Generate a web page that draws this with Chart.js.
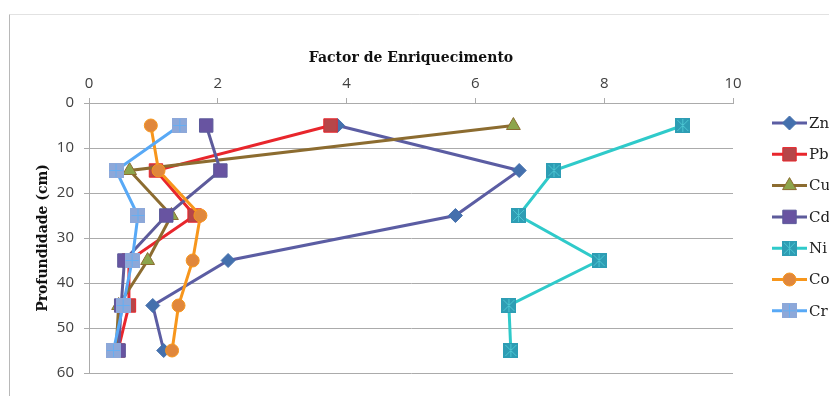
<!DOCTYPE html>
<html>
<head>
<meta charset="utf-8">
<title>Factor de Enriquecimento</title>
<script src="https://cdn.jsdelivr.net/npm/chart.js@4/dist/chart.umd.min.js"></script>
<style>
  html, body { margin: 0; padding: 0; background: #fff; }
  #wrap { width: 829px; height: 396px; }
</style>
</head>
<body>
<div id="wrap"><canvas id="chart" width="829" height="396"></canvas></div>
<script>
// profundidades (cm) e factores de enriquecimento por elemento
const profundidades = [5, 15, 25, 35, 45, 55];
const zn = [3.86, 6.68, 5.69, 2.16, 0.99, 1.16];
const pb = [3.75, 1.04, 1.64, 0.62, 0.62, 0.45];
const cu = [6.59, 0.63, 1.28, 0.91, 0.46, 0.42];
const cd = [1.82, 2.04, 1.20, 0.55, 0.50, 0.46];
const ni = [9.22, 7.22, 6.67, 7.92, 6.52, 6.55];
const co = [0.96, 1.08, 1.73, 1.61, 1.39, 1.29];
const cr = [1.41, 0.42, 0.76, 0.67, 0.53, 0.38];

const fatorTicks = [0, 2, 4, 6, 8, 10];
const profTicks = [0, 10, 20, 30, 40, 50, 60];

// marcador quadrado com riscos por cima (Ni e Cr)
function marcador(fill, risco, comX) {
    const c = document.createElement('canvas');
    c.width = 15; c.height = 15;
    const g = c.getContext('2d');
    g.fillStyle = fill;
    g.fillRect(0, 0, 15, 15);
    g.strokeStyle = risco;
    g.lineWidth = 1;
    g.beginPath();
    g.moveTo(7.5, 1); g.lineTo(7.5, 14);
    if (comX) {
        g.moveTo(2, 2); g.lineTo(13, 13);
        g.moveTo(13, 2); g.lineTo(2, 13);
    } else {
        g.moveTo(1, 7.5); g.lineTo(14, 7.5);
    }
    g.stroke();
    return c;
}

const pontos = (valores) => valores.map((v, i) => ({ x: v, y: profundidades[i] }));

const series = [
    { label: 'Zn', data: zn, linha: '#5b5da3', ponto: '#4470ad', borda: '#4470ad', estilo: 'rectRot', raio: 7 },
    { label: 'Pb', data: pb, linha: '#e8262c', ponto: '#b64649', borda: '#e8262c', estilo: 'rect', raio: 9.5 },
    { label: 'Cu', data: cu, linha: '#8c6c30', ponto: '#8da54b', borda: '#8c6c30', estilo: 'triangle', raio: 8 },
    { label: 'Cd', data: cd, linha: '#5d5b9b', ponto: '#6854a1', borda: '#5d5b9b', estilo: 'rect', raio: 9.5 },
    { label: 'Ni', data: ni, linha: '#2fcaca', ponto: marcador('#2e9db4', '#4cc6d2', true), borda: '#2e9db4', estilo: null, raio: 7 },
    { label: 'Co', data: co, linha: '#f7961c', ponto: '#e0873c', borda: '#f7961c', estilo: 'circle', raio: 6.5 },
    { label: 'Cr', data: cr, linha: '#58a9f6', ponto: marcador('#8da8d9', '#66aef2', false), borda: '#8da8d9', estilo: null, raio: 7 }
];

const datasets = series.map((s, i) => ({
    label: s.label,
    data: pontos(s.data),
    showLine: true,
    borderColor: s.linha,
    borderWidth: 3,
    backgroundColor: s.linha,
    pointStyle: s.estilo || s.ponto,
    pointRadius: s.raio,
    pointHoverRadius: s.raio,
    pointBackgroundColor: typeof s.ponto === 'string' ? s.ponto : s.linha,
    pointBorderColor: s.borda,
    pointBorderWidth: 1,
    order: series.length - i
}));

// moldura cinzenta à volta do gráfico
const moldura = {
    id: 'moldura',
    beforeDraw(chart) {
        const ctx = chart.ctx;
        ctx.save();
        ctx.strokeStyle = '#e2e2e2';
        ctx.lineWidth = 1;
        ctx.beginPath();
        ctx.moveTo(9.5, 14.5); ctx.lineTo(829, 14.5);
        ctx.stroke();
        ctx.strokeStyle = '#b8b8b8';
        ctx.beginPath();
        ctx.moveTo(9.5, 14.5); ctx.lineTo(9.5, 396);
        ctx.stroke();
        ctx.restore();
    }
};

// legenda à direita: linha com o marcador no meio
const legenda = {
    id: 'legendaLateral',
    afterDraw(chart) {
        const ctx = chart.ctx;
        ctx.save();
        series.forEach((s, i) => {
            const y = 123 + i * 31.3;
            ctx.strokeStyle = s.linha;
            ctx.lineWidth = 3;
            ctx.beginPath();
            ctx.moveTo(772, y); ctx.lineTo(807, y);
            ctx.stroke();
            if (s.estilo) {
                ctx.fillStyle = s.ponto;
                ctx.strokeStyle = s.borda;
                ctx.lineWidth = 1;
                Chart.helpers.drawPoint(ctx, { pointStyle: s.estilo, radius: s.raio, rotation: 0, borderWidth: 1 }, 789.5, y);
            } else {
                ctx.drawImage(s.ponto, 789.5 - 7.5, y - 7.5);
            }
            ctx.fillStyle = '#222';
            ctx.font = '15px "DejaVu Serif"';
            ctx.textBaseline = 'middle';
            ctx.fillText(s.label, 809, y + 1);
        });
        ctx.restore();
    }
};

new Chart(document.getElementById('chart'), {
    type: 'scatter',
    data: { datasets },
    plugins: [moldura, legenda],
    options: {
        responsive: false,
        animation: false,
        layout: { padding: { left: 0, right: 96, top: 0, bottom: 23 } },
        plugins: {
            legend: { display: false },
            tooltip: { enabled: false }
        },
        scales: {
            x: {
                type: 'linear',
                position: 'top',
                min: 0,
                max: 10,
                afterFit(scale) { scale.height = 103; },
                afterBuildTicks(scale) { scale.ticks = fatorTicks.map(v => ({ value: v })); },
                title: {
                    display: true,
                    text: 'Factor de Enriquecimento',
                    color: '#111',
                    font: { family: 'DejaVu Serif', weight: 'bold', size: 14 },
                    padding: { top: 50, bottom: 0 }
                },
                ticks: {
                    color: '#404040',
                    font: { family: 'Open Sans', size: 15 },
                    padding: 5
                },
                grid: {
                    drawOnChartArea: false,
                    drawTicks: true,
                    tickLength: 5,
                    color: '#ababab'
                },
                border: { display: true, color: '#ababab' }
            },
            y: {
                type: 'linear',
                reverse: true,
                min: 0,
                max: 60,
                afterFit(scale) { scale.width = 89; },
                afterBuildTicks(scale) { scale.ticks = profTicks.map(v => ({ value: v })); },
                title: {
                    display: true,
                    text: 'Profundidade (cm)',
                    color: '#111',
                    font: { family: 'DejaVu Serif', weight: 'bold', size: 14 },
                    padding: { top: 35, bottom: 0 }
                },
                ticks: {
                    color: '#404040',
                    font: { family: 'Open Sans', size: 15 },
                    padding: 10
                },
                grid: {
                    drawOnChartArea: true,
                    drawTicks: true,
                    tickLength: 5,
                    color: '#ababab'
                },
                border: { display: true, color: '#ababab' }
            }
        }
    }
});
</script>
</body>
</html>
